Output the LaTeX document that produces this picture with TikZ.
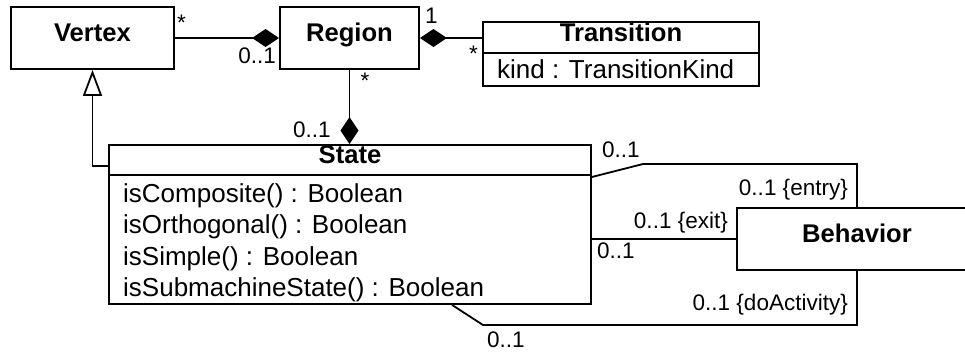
\documentclass[tikz,border=0pt]{standalone}
\usepackage{fontspec}
\setmainfont{Liberation Sans}
\usetikzlibrary{arrows.meta}
\begin{document}
\begin{tikzpicture}[x=1pt,y=-1pt,
  lw/.style={line width=1.8pt},
  classbox/.style={draw, lw, rectangle, inner sep=0pt, text height=0.716em, text depth=0pt, font=\fontsize{25.6}{30}\selectfont\bfseries},
  boxonly/.style={draw, lw, rectangle, inner sep=0pt},
  ttl/.style={inner sep=0pt, text height=0.716em, text depth=0pt, font=\fontsize{25.6}{30}\selectfont\bfseries},
  member/.style={inner sep=0pt, anchor=base west, font=\fontsize{26}{31}\selectfont},
  mult/.style={inner sep=0pt, font=\fontsize{22.5}{26}\selectfont},
  conn/.style={lw, line join=miter},
  comp/.style={conn, -{Diamond[length=27pt, width=18pt]}},
  gen/.style={conn, -{Triangle[open, length=26pt, width=19pt]}},
]
\useasboundingbox (0,0) rectangle (965,351);
\clip (0,0) rectangle (965,351);
\fill[white] (0,0) rectangle (965,351);

% classes
\node[classbox, minimum width=163pt, minimum height=62pt] (vertex) at (92.5,38) {Vertex};
\node[classbox, minimum width=139pt, minimum height=62pt] (region) at (349.5,38) {Region};

\node[boxonly, minimum width=276pt, minimum height=64pt] (transition) at (621,54) {};
\node[ttl] (transtitle) at (621,37.5) {Transition};
\draw[lw] (transition.west |- 0,53) -- (transition.east |- 0,53);
\node[member] (kind) at (497,78) {kind : TransitionKind};

\node[boxonly, minimum width=482pt, minimum height=159pt] (state) at (350,224.5) {};
\node[ttl] (statetitle) at (350,160) {State};
\draw[lw] (state.west |- 0,175) -- (state.east |- 0,175);
\node[member] (m1) at (123,202) {isComposite() : Boolean};
\node[member] (m2) at (123,233.5) {isOrthogonal() : Boolean};
\node[member] (m3) at (123,265) {isSimple() : Boolean};
\node[member] (m4) at (123,296.5) {isSubmachineState() : Boolean};

\node[classbox, minimum width=240pt, minimum height=62pt] (behavior) at (857,239) {Behavior};

% connectors
\draw[comp] (vertex.east) -- (region.west);
\draw[comp] (transition.west |- region.east) -- (region.east);
\draw[comp] (region.south) -- (region.south |- state.north);
\coordinate (gs) at (state.west |- 0,166);
\draw[gen] (gs) -| (vertex.south);

\coordinate (en0) at (state.east |- 0,177);
\coordinate (en1) at (643,164);
\draw[conn] (en0) -- (en1) -| (behavior.north);
\draw[conn] (state.east |- behavior.west) -- (behavior.west);
\coordinate (da0) at (state.south -| 452,0);
\coordinate (da1) at (483,325);
\draw[conn] (da0) -- (da1) -| (behavior.south);

% multiplicities
\node[mult, anchor=base] (l1) at (181.5,30) {*};
\node[mult, anchor=base east] (l2) at (276,63) {0..1};
\node[mult, anchor=base west] (l3) at (425,23) {1};
\node[mult, anchor=base] (l4) at (473.5,61) {*};
\node[mult, anchor=base] (l5) at (365,88) {*};
\node[mult, anchor=base west] (l6) at (293,137) {0..1};
\node[mult, anchor=base west] (l7) at (602,157) {0..1};
\node[mult, anchor=base east] (l8) at (848,195) {0..1 \{entry\}};
\node[mult, anchor=base east] (l9) at (728,228) {0..1 \{exit\}};
\node[mult, anchor=base west] (l10) at (597,258) {0..1};
\node[mult, anchor=base east] (l11) at (848,310) {0..1 \{doActivity\}};
\node[mult, anchor=base west] (l12) at (487,347.5) {0..1};
\end{tikzpicture}
\end{document}
